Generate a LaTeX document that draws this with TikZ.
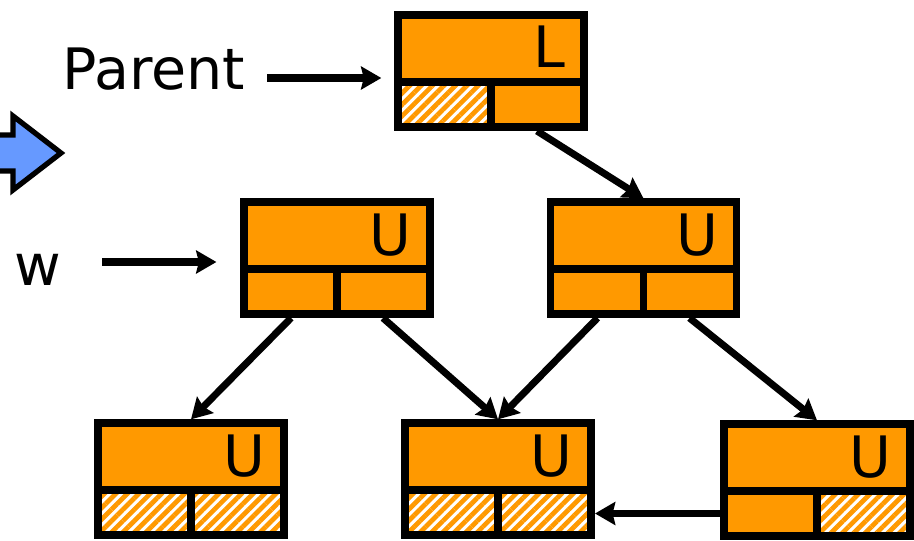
\documentclass[tikz,border=0pt]{standalone}
\usepackage{fontspec}
\setmainfont{DejaVu Sans}
\usetikzlibrary{arrows.meta,patterns.meta}

\definecolor{boxorange}{HTML}{FF9900}
\definecolor{arrowblue}{HTML}{6699FF}

\tikzset{
  cellbox/.style={fill=boxorange, minimum width=3.72cm, minimum height=2.24cm, line width=4.2pt},
  boxline/.style={line width=4.2pt},
  plain/.style={fill=boxorange},
  hatched/.style={fill=white, postaction={pattern={Lines[angle=45,distance=4.6pt,line width=2.7pt]}, pattern color=boxorange}},
  tag/.style={inner sep=0pt},
  ptr/.style={line width=4pt, -{Stealth[length=11.5pt,width=13pt,inset=1.5pt]}},
  bigarrow/.style={fill=arrowblue, draw=black, line width=3pt, line join=miter}
}

% name, position, letter, left cell, right cell
\newcommand\cellnode[5]{%
  \node[cellbox] (#1) at (#2) {};
  \begin{scope}[shift={(#1.center)}]
    \fill[#4] (-93,11) rectangle (0,56);
    \fill[#5] (0,11) rectangle (93,56);
    \draw[boxline] (-93,-56) rectangle (93,56) (-93,11) -- (93,11) (0,11) -- (0,56);
    \node[tag, anchor=base east] (#1-tag) at (75,-3) {#3};
    \coordinate (#1-l) at (-46,60);
    \coordinate (#1-r) at (46,60);
    \coordinate (#1-bw) at (-97,33.5);
    \coordinate (#1-be) at (97,33.5);
  \end{scope}%
}

\begin{document}
\begin{tikzpicture}[x=0.02cm, y=-0.02cm, font=\fontsize{32.5}{39}\selectfont]
\useasboundingbox (0,0) rectangle (914,541);

\filldraw[bigarrow] (-10,135) -- (13,135) -- (13,116) -- (61,153) -- (13,190) -- (13,171) -- (-10,171) -- cycle;

\cellnode{root}{491,71}{L}{hatched}{plain}
\cellnode{midl}{337,258}{U}{plain}{plain}
\cellnode{midr}{643.5,258}{U}{plain}{plain}
\cellnode{leafl}{191,479}{U}{hatched}{hatched}
\cellnode{leafm}{498,479}{U}{hatched}{hatched}
\cellnode{leafr}{817,480}{U}{plain}{hatched}

\node[anchor=base west, inner sep=0pt] (parent) at (62,90) {Parent};
\node (w) at (38,270) {w};
\coordinate (pline) at (267,78);
\coordinate (wline) at (102,262);
\draw[ptr, shorten >=7.4pt] (pline) -- (pline -| root.west);
\draw[ptr, shorten >=13.6pt] (wline) -- (wline -| midl.west);

\draw[ptr] (root-r) -- (midr.north);
\draw[ptr] (midl-l) -- (leafl.north);
\draw[ptr] (midl-r) -- (leafm.north);
\draw[ptr] (midr-l) -- (leafm.north);
\draw[ptr] (midr-r) -- (leafr.north);
\draw[ptr] (leafr-bw) -- (leafr-bw -| leafm-be);
\end{tikzpicture}
\end{document}
